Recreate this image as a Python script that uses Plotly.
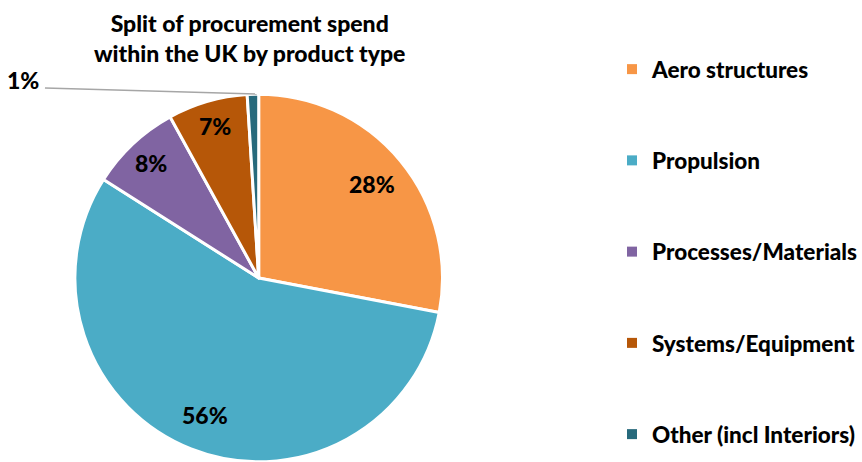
import math
import plotly.graph_objects as go

# Procurement spend split by product type (percent)
categories = ["Aero structures", "Propulsion", "Processes/Materials",
              "Systems/Equipment", "Other (incl Interiors)"]
shares = [28, 56, 8, 7, 1]
colors = ["#F79646", "#4BACC6", "#8064A2", "#B65708", "#276A7C"]
title_text = "Split of procurement spend<br>within the UK by product type"

FONT = "Lato"
WEIGHT = 900
W, H = 862, 462

# Pie placement in pixels (centre and radius)
CX, CY, R = 259, 278, 184

fig = go.Figure()

fig.add_trace(go.Pie(
    labels=categories,
    values=shares,
    sort=False,
    direction="clockwise",
    rotation=0,
    marker=dict(colors=colors, line=dict(color="white", width=3)),
    textinfo="none",
    domain=dict(x=[(CX - R) / W, (CX + R) / W], y=[0, (H - (CY - R)) / H]),
    showlegend=False,
    hoverinfo="label+percent",
))

# Percentage labels placed along each slice's mid-angle
total = sum(shares)
cum = 0
for s in shares:
    mid = (cum + s / 2) / total * 2 * math.pi
    cum += s
    if s < 5:
        continue
    r = (0.86 if s < 10 else 0.80) * R
    px = CX + r * math.sin(mid)
    py = CY - r * math.cos(mid)
    fig.add_annotation(x=px / W, y=1 - py / H, xref="paper", yref="paper",
                       text=f"{s}%", showarrow=False,
                       xanchor="center", yanchor="middle",
                       font=dict(family=FONT, size=23, color="black",
                                 weight=WEIGHT))

# Legend entries, one group each so they can be spaced apart
for name, col in zip(categories, colors):
    fig.add_trace(go.Scatter(
        x=[None], y=[None], mode="markers", name=name, legendgroup=name,
        marker=dict(symbol="square", size=10, color=col),
    ))

# Label for the smallest slice with its leader line
small = shares[-1]
fig.add_annotation(x=41 / W, y=1 - 80 / H, xref="paper", yref="paper",
                   text=f"{small}%", showarrow=False, xanchor="right",
                   yanchor="middle",
                   font=dict(family=FONT, size=23, color="black",
                             weight=WEIGHT))
fig.add_shape(type="line", xref="paper", yref="paper",
              x0=45 / W, y0=1 - 88 / H, x1=257 / W, y1=1 - 94 / H,
              line=dict(color="#A6A6A6", width=1.5))

# Chart title
fig.add_annotation(x=250 / W, y=1 - 38 / H, xref="paper", yref="paper",
                   text=title_text, showarrow=False, align="center",
                   xanchor="center", yanchor="middle",
                   font=dict(family=FONT, size=23, color="black",
                             weight=WEIGHT))

fig.update_layout(
    width=W, height=H,
    margin=dict(l=0, r=0, t=0, b=0),
    paper_bgcolor="white", plot_bgcolor="white",
    xaxis=dict(visible=False), yaxis=dict(visible=False),
    legend=dict(x=613 / W, xanchor="left", y=1 - 48 / H, yanchor="top",
                tracegroupgap=59, bgcolor="rgba(0,0,0,0)",
                font=dict(family=FONT, size=22.5, color="black",
                          weight=WEIGHT)),
    showlegend=True,
)

fig.write_html("out.html")
